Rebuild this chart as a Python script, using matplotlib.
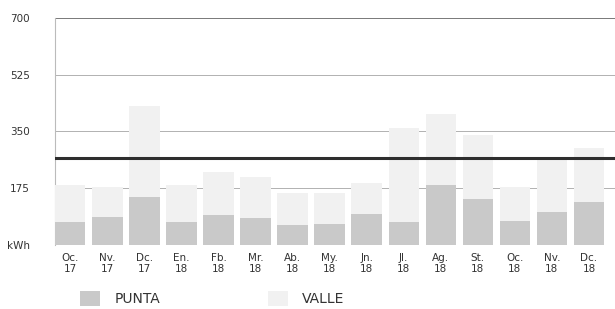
import matplotlib
matplotlib.use("Agg")
import matplotlib.pyplot as plt
import numpy as np

months = ["Oc.\n17", "Nv.\n17", "Dc.\n17", "En.\n18", "Fb.\n18", "Mr.\n18", "Ab.\n18",
          "My.\n18", "Jn.\n18", "Jl.\n18", "Ag.\n18", "St.\n18", "Oc.\n18", "Nv.\n18", "Dc.\n18"]
punta = [71, 87, 149, 71, 93, 84, 62, 65, 96, 71, 186, 143, 74, 102, 133]
valle = [114, 93, 278, 114, 132, 126, 98, 95, 94, 289, 219, 197, 106, 168, 167]
average = 268
yticks = [0, 175, 350, 525, 700]
ytick_labels = ["kWh", "175", "350", "525", "700"]

fig = plt.figure(figsize=(6.15, 3.09), dpi=100)
ax = fig.add_axes([0.089, 0.207, 0.95, 0.735])

x = np.arange(len(months))
b1 = ax.bar(x, punta, width=0.82, color="#c9c9c9", zorder=3, label="PUNTA")
b2 = ax.bar(x, valle, width=0.82, bottom=punta, color="#f1f1f1", zorder=3, label="VALLE")
ax.axhline(average, color="#2e2e2e", lw=2.2, zorder=4)

for v in yticks[1:4]:
    ax.axhline(v, color="#a5a5a5", lw=0.6, zorder=1)
ax.axhline(700, color="#555555", lw=1.1, zorder=1)

ax.set_xlim(-0.42, 15.35)
ax.set_ylim(0, 700)
ax.set_yticks(yticks)
ax.set_yticklabels(ytick_labels, fontsize=7.5, color="#333333")
ax.set_xticks(x)
ax.set_xticklabels(months, fontsize=7.5, color="#333333", linespacing=1.05)
ax.tick_params(axis="both", length=0, pad=6)
ax.tick_params(axis="y", pad=18)

for s in ["top", "right", "bottom"]:
    ax.spines[s].set_visible(False)
ax.spines["left"].set_color("#bbbbbb")
ax.spines["left"].set_linewidth(0.8)

fig.legend(handles=[b1, b2], loc="lower left", bbox_to_anchor=(0.11, -0.03),
           ncol=2, frameon=False, handlelength=1.45, handleheight=1.3,
           handletextpad=1.0, columnspacing=7.8, prop={"size": 10})
for t in fig.legends[0].get_texts():
    t.set_color("#333333")

fig.savefig("out.png", dpi=100)
